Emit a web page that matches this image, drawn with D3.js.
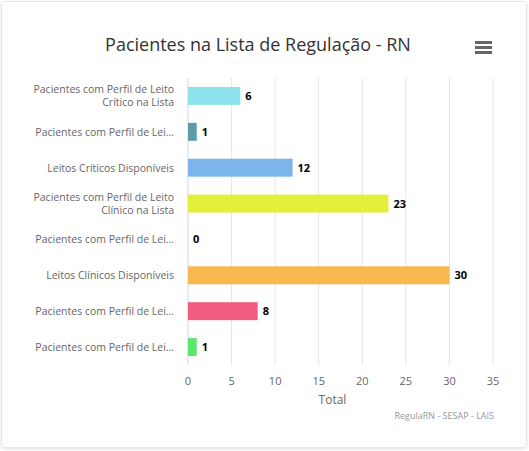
<!DOCTYPE html>
<html><head><meta charset="utf-8">
<script src="https://cdn.jsdelivr.net/npm/d3@7"></script>
<style>
body{margin:0;background:#fff;font-family:"Open Sans","DejaVu Sans",sans-serif;}
#card{position:absolute;left:1px;top:1px;width:524px;height:445px;border:1px solid #e6e6e6;border-radius:4px;box-shadow:0 1px 3px rgba(0,0,0,0.12);}
</style></head><body><div id="card"></div>
<svg id="c" width="529" height="451" style="position:absolute;left:0;top:0"></svg>
<script>
const categories = [
  ["Pacientes com Perfil de Leito","Crítico na Lista"],
  ["Pacientes com Perfil de Lei…"],
  ["Leitos Críticos Disponíveis"],
  ["Pacientes com Perfil de Leito","Clínico na Lista"],
  ["Pacientes com Perfil de Lei…"],
  ["Leitos Clínicos Disponíveis"],
  ["Pacientes com Perfil de Lei…"],
  ["Pacientes com Perfil de Lei…"]
];
const values = [6,1,12,23,0,30,8,1];
const colors = ["#8ee3ec","#5c9ca6","#7cb5ec","#e4ef3b","#434348","#f7b84f","#f15c80","#5ce66a"];
const xTicks = [0,5,10,15,20,25,30,35];

const svg = d3.select("#c");
const L=188,R=493,T=78,B=365;
const x = d3.scaleLinear().domain([0,35]).range([L,R]);
const y = d3.scaleBand().domain(d3.range(values.length)).range([T,B]).paddingInner(0.5).paddingOuter(0.25);

svg.append("text").attr("x",258).attr("y",51).attr("text-anchor","middle")
  .style("font-size","18px").style("fill","#333").text("Pacientes na Lista de Regulação - RN");
[0,5,10].forEach(d=>svg.append("rect").attr("x",475).attr("y",41+d).attr("width",17).attr("height",3).attr("fill","#666"));

svg.append("g").selectAll("line").data(xTicks.slice(1)).join("line")
  .attr("x1",d=>x(d)).attr("x2",d=>x(d)).attr("y1",T).attr("y2",B).attr("stroke","#e6e6e6");
svg.append("line").attr("x1",L).attr("x2",L).attr("y1",T).attr("y2",B).attr("stroke","#ccd6eb");

svg.append("g").selectAll("rect").data(values).join("rect")
  .attr("x",L).attr("y",(d,i)=>y(i)).attr("width",d=>x(d)-L).attr("height",y.bandwidth())
  .attr("fill",(d,i)=>colors[i]);
svg.append("g").selectAll("text").data(values).join("text")
  .attr("x",d=>x(d)+5).attr("y",(d,i)=>y(i)+y.bandwidth()/2+4)
  .style("font-size","11px").style("font-weight","bold").style("fill","#000")
  .style("paint-order","stroke").style("stroke","#fff").style("stroke-width","2px").text(d=>d);

categories.forEach((lines,i)=>{
  const cy=y(i)+y.bandwidth()/2;
  const t=svg.append("text").attr("text-anchor","end").style("font-size","10.5px").style("fill","#666");
  lines.forEach((s,j)=>t.append("tspan").attr("x",174).attr("y",cy+4+(j-(lines.length-1)/2)*13).text(s));
});

svg.append("g").selectAll("text").data(xTicks).join("text")
  .attr("x",d=>x(d)).attr("y",385).attr("text-anchor","middle")
  .style("font-size","11px").style("fill","#666").text(d=>d);
svg.append("text").attr("x",(L+R)/2-8).attr("y",404).attr("text-anchor","middle")
  .style("font-size","12px").style("fill","#666").text("Total");
svg.append("text").attr("x",494).attr("y",419).attr("text-anchor","end")
  .style("font-size","9px").style("fill","#999").text("RegulaRN - SESAP - LAIS");
</script></body></html>
